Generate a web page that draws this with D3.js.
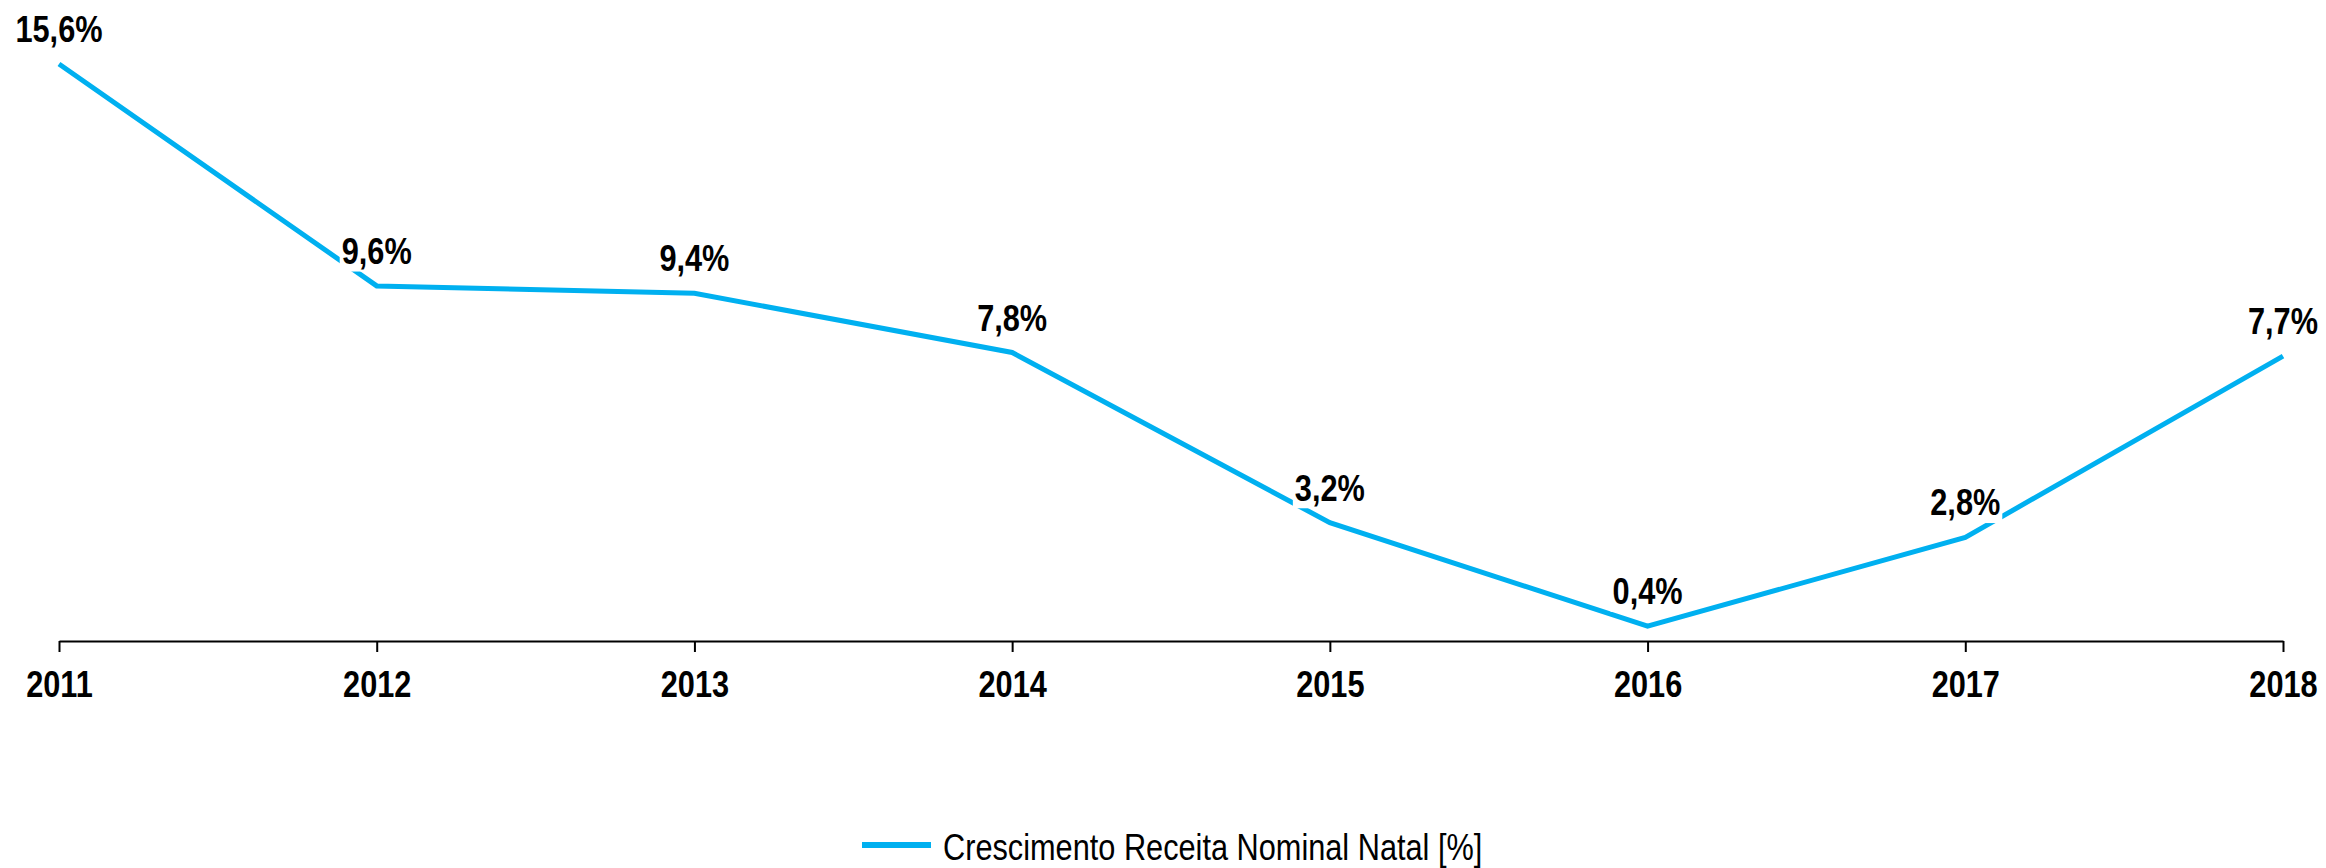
<!DOCTYPE html>
<html>
<head>
<meta charset="utf-8">
<script src="https://cdn.jsdelivr.net/npm/d3@7"></script>
<style>
  html, body { margin: 0; padding: 0; background: #fff; }
  svg { display: block; font-family: "Liberation Sans Narrow", "Arial Narrow", "Liberation Sans", Arial, sans-serif; }
</style>
</head>
<body>
<script>
/**********************
 ***    Constants   ***
 **********************/
const WIDTH = 2326, HEIGHT = 868;
const X_LEFT = 59, X_RIGHT = 2283;
const Y_ZERO = 641, Y_TOP = 64;
const LINE_COLOR = '#00B0F0';
const FONT_SIZE = '37px';
const NARROW = 0.83; // squeeze regular sans to look like Arial Narrow

// data
const years = ['2011', '2012', '2013', '2014', '2015', '2016', '2017', '2018'];
const growth = [15.6, 9.6, 9.4, 7.8, 3.2, 0.4, 2.8, 7.7];
const seriesName = 'Crescimento Receita Nominal Natal [%]';

const fmt = v => d3.format('.1f')(v).replace('.', ',') + '%';

const svg = d3.select('body').append('svg')
  .attr('width', WIDTH)
  .attr('height', HEIGHT);

// scales
const x = d3.scalePoint().domain(years).range([X_LEFT, X_RIGHT]);
const y = d3.scaleLinear().domain([0, 15.6]).range([Y_ZERO, Y_TOP]);

// x axis
const xAxis = svg.append('g')
  .attr('transform', `translate(0,${Y_ZERO})`)
  .call(d3.axisBottom(x).tickSize(11).tickSizeOuter(0).tickPadding(19));
xAxis.attr('font-family', null);
xAxis.select('.domain').attr('stroke', '#000').attr('stroke-width', 2);
xAxis.selectAll('.tick line').attr('stroke', '#000').attr('stroke-width', 2);
xAxis.selectAll('.tick text')
  .attr('fill', '#000')
  .attr('transform', `scale(${NARROW},1)`)
  .style('font-size', FONT_SIZE)
  .style('font-weight', 'bold');

// line
const line = d3.line()
  .x((d, i) => x(years[i]))
  .y(d => y(d));

svg.append('path')
  .datum(growth)
  .attr('fill', 'none')
  .attr('stroke', LINE_COLOR)
  .attr('stroke-width', 5)
  .attr('stroke-linejoin', 'miter')
  .attr('d', line);

// data labels with white boxes
const labels = svg.append('g').selectAll('g')
  .data(growth)
  .join('g')
  .attr('transform', (d, i) => `translate(${x(years[i])},${y(d) - 22})`);

labels.append('rect')
  .attr('fill', '#fff');

labels.append('text')
  .attr('text-anchor', 'middle')
  .attr('transform', `scale(${NARROW},1)`)
  .style('font-size', FONT_SIZE)
  .style('font-weight', 'bold')
  .attr('fill', '#000')
  .text(d => fmt(d));

labels.each(function () {
  const g = d3.select(this);
  const bb = g.select('text').node().getBBox();
  g.select('rect')
    .attr('x', bb.x * NARROW - 2)
    .attr('y', bb.y + 2)
    .attr('width', bb.width * NARROW + 4)
    .attr('height', bb.height - 2);
});

// legend
const legend = svg.append('g').attr('transform', 'translate(862,845)');
legend.append('line')
  .attr('x1', 0).attr('x2', 69)
  .attr('stroke', LINE_COLOR)
  .attr('stroke-width', 6);
legend.append('text')
  .attr('transform', `translate(81,15) scale(${NARROW},1)`)
  .style('font-size', FONT_SIZE)
  .attr('fill', '#000')
  .text(seriesName);
</script>
</body>
</html>
